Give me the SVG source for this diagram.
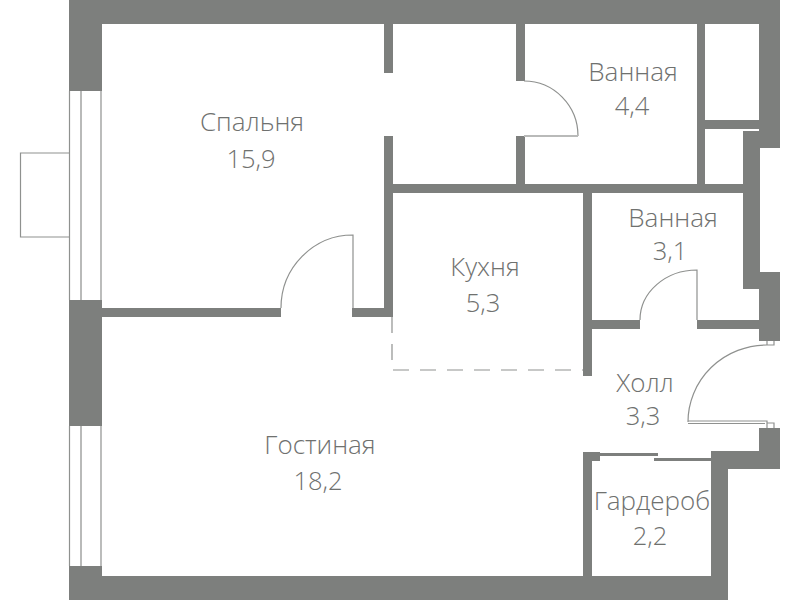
<svg xmlns="http://www.w3.org/2000/svg" width="800" height="600" viewBox="0 0 800 600">
<style>
.w{fill:#7d7f7d}
.l{fill:none;stroke:#8f918f;stroke-width:1.2}
.g{fill:none;stroke:#b9bab9;stroke-width:2}
.d{fill:none;stroke:#8f918f;stroke-width:1.2;stroke-dasharray:16 11}
text{font-family:"Open Sans","Liberation Sans",sans-serif;font-weight:300;font-size:25.500px;fill:#6f716f;text-anchor:middle}
.n{font-size:26px}
</style>
<rect width="800" height="600" fill="#fff"/>
<g id="walls" class="w">
<rect x="69" y="0" width="711" height="24"/>
<rect x="69" y="0" width="33" height="91"/>
<rect x="69" y="300" width="33" height="126"/>
<rect x="69" y="566" width="33" height="34"/>
<rect x="69" y="576" width="659" height="24"/>
<rect x="759" y="0" width="21" height="148"/>
<rect x="743" y="131" width="17" height="158"/>
<rect x="759" y="272" width="21" height="69"/>
<rect x="759" y="428" width="21" height="41"/>
<rect x="711" y="451" width="69" height="18"/>
<rect x="711" y="451" width="17" height="125"/>
<rect x="384" y="24" width="9" height="49"/>
<rect x="384" y="136" width="9" height="181"/>
<rect x="516" y="24" width="9" height="57"/>
<rect x="516" y="136" width="9" height="49"/>
<rect x="697" y="24" width="8" height="160"/>
<rect x="705" y="120" width="54" height="9"/>
<rect x="393" y="184" width="350" height="9"/>
<rect x="583" y="193" width="9" height="183"/>
<rect x="592" y="320" width="48" height="9"/>
<rect x="697" y="320" width="62" height="9"/>
<rect x="102" y="308" width="179" height="9"/>
<rect x="352" y="308" width="41" height="9"/>
<rect x="583" y="452" width="9" height="124"/>
<rect x="583" y="452" width="17" height="9"/>
</g>
<g id="windows">
<path class="l" d="M69.500 91V300M101 91V300M69.500 426V566M101 426V566M69 153H20.500V237H69"/>
<path class="g" d="M81 91V300M81 426V566"/>
</g>
<g id="doors">
<path class="l" d="M524 81A54 55 0 0 1 578 136"/>
<path class="g" d="M524 136H578"/>
<path class="l" d="M281 308A72 73 0 0 1 353 235V308"/>
<path class="l" d="M640 320A57 50 0 0 1 697 270V320"/>
<path class="l" d="M767 345A79 77 0 0 0 688 422M688 421H767V428M688 423.500H765M767 341V345H774V341M767 423H774V428"/>
<path d="M600 453H658V456H600ZM654 458H711V461H654Z" fill="#7d7f7d"/>
<path class="d" d="M392 317V370H583"/>
</g>
<g id="labels">
<text class="n" x="252" y="131">Спальня</text>
<text x="251" y="168">15,9</text>
<text class="n" x="633" y="81">Ванная</text>
<text x="632" y="115">4,4</text>
<text class="n" x="673" y="227">Ванная</text>
<text x="670" y="260">3,1</text>
<text class="n" x="485" y="276">Кухня</text>
<text x="483" y="312">5,3</text>
<text class="n" x="645" y="392">Холл</text>
<text x="643" y="425">3,3</text>
<text class="n" x="320" y="454">Гостиная</text>
<text x="318" y="490">18,2</text>
<text class="n" x="652" y="510">Гардероб</text>
<text x="650" y="545">2,2</text>
</g>
</svg>
